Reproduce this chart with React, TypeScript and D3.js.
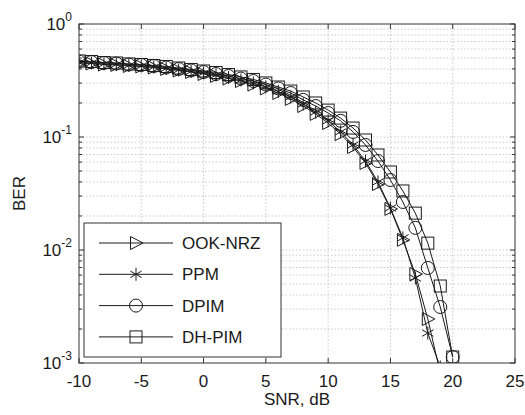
import React from 'react';
import * as d3 from 'd3';

// SNR points (dB) and BER readings for each modulation scheme
const snr = d3.range(-10, 21);

const ookNrz = [0.452, 0.447, 0.438, 0.434, 0.425, 0.421, 0.412, 0.4, 0.388, 0.376, 0.361, 0.347, 0.329, 0.313, 0.291, 0.269, 0.245, 0.217, 0.188, 0.16, 0.133, 0.106, 0.0816, 0.0589, 0.0384, 0.0231, 0.0123, 0.00613, 0.00245, 0.000815];
const ppm = [0.456, 0.452, 0.443, 0.438, 0.429, 0.425, 0.416, 0.404, 0.392, 0.38, 0.369, 0.354, 0.336, 0.319, 0.301, 0.277, 0.253, 0.226, 0.196, 0.166, 0.139, 0.111, 0.085, 0.0613, 0.04, 0.0235, 0.0128, 0.00565, 0.00184, 0.000922];
const dpim = [0.466, 0.461, 0.452, 0.447, 0.438, 0.434, 0.425, 0.412, 0.4, 0.388, 0.376, 0.361, 0.347, 0.329, 0.313, 0.291, 0.269, 0.245, 0.213, 0.188, 0.163, 0.139, 0.111, 0.085, 0.0613, 0.0416, 0.0266, 0.0157, 0.00693, 0.00313, 0.00113];
const dhPim = [0.471, 0.466, 0.456, 0.452, 0.443, 0.438, 0.429, 0.421, 0.408, 0.396, 0.384, 0.372, 0.357, 0.34, 0.323, 0.301, 0.277, 0.255, 0.226, 0.2, 0.173, 0.147, 0.12, 0.0941, 0.0693, 0.049, 0.0333, 0.0212, 0.0115, 0.0048, 0.00113];

const seriesNames = ['OOK-NRZ', 'PPM', 'DPIM', 'DH-PIM'];
const seriesValues = [ookNrz, ppm, dpim, dhPim];
const markerKinds = ['triangle', 'star', 'circle', 'square'];

const xTicks = [-10, -5, 0, 5, 10, 15, 20, 25];
const yExponents = [0, -1, -2, -3];

const width = 525;
const height = 415;
const margin = { top: 24, right: 10, bottom: 52, left: 79 };
const ink = '#1a1a1a';
const font = "'Liberation Sans', Arial, sans-serif";

const Marker = ({ kind, x, y }: { kind: string; x: number; y: number }) => {
  const common = { fill: 'none', stroke: ink, strokeWidth: 1 };
  if (kind === 'triangle') {
    return <path d={`M${x - 5.5},${y - 6.5}L${x + 7},${y}L${x - 5.5},${y + 6.5}Z`} {...common} />;
  }
  if (kind === 'circle') {
    return <circle cx={x} cy={y} r={6.5} {...common} />;
  }
  if (kind === 'square') {
    return <rect x={x - 6} y={y - 6} width={12} height={12} {...common} />;
  }
  // six-armed asterisk
  const r = 6.5;
  const arms = [90, 30, -30].map((a) => {
    const t = (a * Math.PI) / 180;
    const dx = r * Math.cos(t);
    const dy = r * Math.sin(t);
    return `M${x - dx},${y - dy}L${x + dx},${y + dy}`;
  });
  return <path d={arms.join('')} {...common} />;
};

const App = () => {
  const x = d3.scaleLinear().domain([-10, 25]).range([margin.left, width - margin.right]);
  const y = d3.scaleLog().domain([1e-3, 1]).range([height - margin.bottom, margin.top]);

  const [x0, x1] = x.range();
  const [y0, y1] = [y(1), y(1e-3)];

  const minorY: number[] = [];
  [-3, -2, -1].forEach((e) => {
    for (let m = 2; m <= 9; m++) minorY.push(m * Math.pow(10, e));
  });

  const line = d3
    .line<number>()
    .x((_, i) => x(snr[i]))
    .y((d) => y(d));

  return (
    <svg
      width={width}
      height={height}
      style={{ position: 'absolute', left: 0, top: 0, background: '#fff' }}
      fontFamily={font}
    >
      <defs>
        <clipPath id="plot-clip">
          <rect x={x0} y={y0} width={x1 - x0} height={y1 - y0} />
        </clipPath>
      </defs>
      <rect x={x0} y={y0} width={x1 - x0} height={y1 - y0} fill="#fff" />

      {/* grid */}
      <g stroke="#bdbdbd" strokeWidth={0.8} strokeDasharray="1.5,2">
        {xTicks.slice(1, -1).map((t) => (
          <line key={'gx' + t} x1={x(t)} x2={x(t)} y1={y0} y2={y1} />
        ))}
        {minorY.map((v) => (
          <line key={'gy' + v} x1={x0} x2={x1} y1={y(v)} y2={y(v)} />
        ))}
        {[0.1, 0.01].map((v) => (
          <line key={'gm' + v} x1={x0} x2={x1} y1={y(v)} y2={y(v)} />
        ))}
      </g>

      {/* series */}
      <g clipPath="url(#plot-clip)">
        {seriesValues.map((vals, si) => (
          <g key={seriesNames[si]}>
            <path d={line(vals) || ''} fill="none" stroke={ink} strokeWidth={1} />
            {vals.map((v, i) => (
              <Marker key={i} kind={markerKinds[si]} x={x(snr[i])} y={y(v)} />
            ))}
          </g>
        ))}
      </g>

      {/* axes box and ticks */}
      <g stroke="#333" strokeWidth={1} fill="none">
        <rect x={x0} y={y0} width={x1 - x0} height={y1 - y0} />
        {xTicks.map((t) => (
          <g key={'tx' + t}>
            <line x1={x(t)} x2={x(t)} y1={y1} y2={y1 - 5} />
            <line x1={x(t)} x2={x(t)} y1={y0} y2={y0 + 5} />
          </g>
        ))}
        {yExponents.map((e) => (
          <g key={'ty' + e}>
            <line x1={x0} x2={x0 + 5} y1={y(Math.pow(10, e))} y2={y(Math.pow(10, e))} />
            <line x1={x1} x2={x1 - 5} y1={y(Math.pow(10, e))} y2={y(Math.pow(10, e))} />
          </g>
        ))}
        {minorY.map((v) => (
          <g key={'my' + v}>
            <line x1={x0} x2={x0 + 3} y1={y(v)} y2={y(v)} />
            <line x1={x1} x2={x1 - 3} y1={y(v)} y2={y(v)} />
          </g>
        ))}
      </g>

      {/* tick labels */}
      <g fill={ink} fontSize={17}>
        {xTicks.map((t) => (
          <text key={'lx' + t} x={x(t)} y={387} textAnchor="middle">
            {t}
          </text>
        ))}
        {yExponents.map((e) => (
          <text key={'ly' + e} x={72} y={y(Math.pow(10, e)) + 6} textAnchor="end">
            10
            <tspan fontSize={12} dy={-9}>
              {e === 0 ? '0' : '-' + Math.abs(e)}
            </tspan>
          </text>
        ))}
        <text x={(x0 + x1) / 2} y={405} textAnchor="middle">
          SNR, dB
        </text>
        <text transform={`translate(25,${(y0 + y1) / 2}) rotate(-90)`} textAnchor="middle">
          BER
        </text>
      </g>

      {/* legend */}
      <g>
        <rect x={84} y={223} width={197} height={134} fill="#fff" stroke="#333" strokeWidth={1} />
        {seriesNames.map((name, i) => {
          const ly = 243 + i * 31.3;
          return (
            <g key={'lg' + name}>
              <line x1={99} x2={173} y1={ly} y2={ly} stroke={ink} strokeWidth={1} />
              <Marker kind={markerKinds[i]} x={136} y={ly} />
              <text x={182} y={ly + 6} fontSize={17} fill={ink}>
                {name}
              </text>
            </g>
          );
        })}
      </g>
    </svg>
  );
};

export default App;
